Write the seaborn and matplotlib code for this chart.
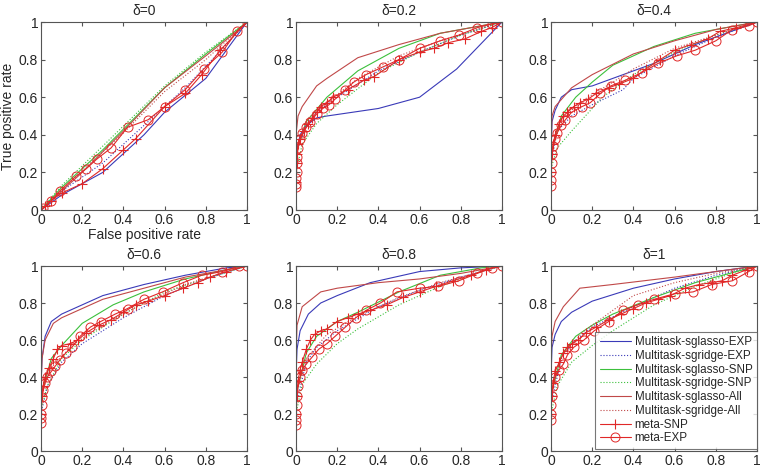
import matplotlib
matplotlib.use("Agg")
import matplotlib.pyplot as plt
import seaborn as sns
import pandas as pd

deltas = ["0", "0.2", "0.4", "0.6", "0.8", "1"]
tick_vals = [0, 0.2, 0.4, 0.6, 0.8, 1]
tick_labels = ["0", "0.2", "0.4", "0.6", "0.8", "1"]

# each series: per-panel (x list, y list)
sglasso_exp = {
    "0": ([0, 0.1, 0.3, 0.5, 0.6, 0.8, 0.9, 1], [0, 0.08, 0.2, 0.4, 0.52, 0.7, 0.85, 1]),
    "0.2": ([0, 0.02, 0.05, 0.1, 0.15, 0.4, 0.6, 0.78, 1], [0.3, 0.4, 0.45, 0.49, 0.5, 0.54, 0.6, 0.75, 1]),
    "0.4": ([0, 0.005, 0.02, 0.05, 0.1, 0.2, 0.3, 0.5, 0.7, 0.9, 1], [0.3, 0.47, 0.53, 0.6, 0.64, 0.66, 0.7, 0.78, 0.88, 0.96, 1]),
    "0.6": ([0, 0.005, 0.02, 0.05, 0.1, 0.3, 0.5, 0.7, 0.9, 1], [0.35, 0.5, 0.62, 0.7, 0.74, 0.84, 0.9, 0.95, 0.99, 1]),
    "0.8": ([0, 0.005, 0.02, 0.06, 0.12, 0.2, 0.36, 0.6, 0.8, 1], [0.4, 0.55, 0.65, 0.74, 0.8, 0.84, 0.91, 0.97, 0.99, 1]),
    "1": ([0, 0.005, 0.02, 0.05, 0.1, 0.2, 0.4, 0.6, 0.8, 1], [0.4, 0.56, 0.63, 0.7, 0.75, 0.81, 0.88, 0.93, 0.97, 1]),
}
sgridge_exp = {
    "0": ([0, 0.1, 0.3, 0.5, 0.7, 0.9, 1], [0, 0.1, 0.25, 0.45, 0.65, 0.88, 1]),
    "0.2": ([0, 0.05, 0.1, 0.2, 0.4, 0.6, 0.8, 1], [0.3, 0.45, 0.52, 0.6, 0.74, 0.84, 0.93, 1]),
    "0.4": ([0, 0.03, 0.1, 0.2, 0.35, 0.4, 0.6, 0.8, 1], [0.25, 0.42, 0.5, 0.56, 0.64, 0.7, 0.82, 0.92, 1]),
    "0.6": ([0, 0.03, 0.1, 0.2, 0.4, 0.6, 0.8, 1], [0.2, 0.35, 0.48, 0.58, 0.72, 0.84, 0.93, 1]),
    "0.8": ([0, 0.05, 0.1, 0.2, 0.4, 0.6, 0.8, 1], [0.25, 0.48, 0.56, 0.65, 0.78, 0.87, 0.94, 1]),
    "1": ([0, 0.05, 0.1, 0.2, 0.4, 0.6, 0.8, 1], [0.25, 0.5, 0.58, 0.67, 0.78, 0.88, 0.95, 1]),
}
sglasso_snp = {
    "0": ([0, 0.1, 0.3, 0.6, 0.8, 1], [0, 0.12, 0.32, 0.65, 0.83, 1]),
    "0.2": ([0, 0.05, 0.15, 0.3, 0.5, 0.7, 1], [0.3, 0.47, 0.6, 0.74, 0.86, 0.94, 1]),
    "0.4": ([0, 0.05, 0.12, 0.2, 0.3, 0.5, 0.7, 0.9, 1], [0.3, 0.5, 0.6, 0.68, 0.77, 0.87, 0.94, 0.98, 1]),
    "0.6": ([0, 0.05, 0.1, 0.2, 0.35, 0.5, 0.7, 0.9, 1], [0.3, 0.5, 0.57, 0.69, 0.79, 0.86, 0.93, 0.98, 1]),
    "0.8": ([0, 0.05, 0.1, 0.2, 0.3, 0.5, 0.7, 0.9, 1], [0.3, 0.53, 0.62, 0.7, 0.75, 0.86, 0.95, 0.99, 1]),
    "1": ([0, 0.05, 0.12, 0.2, 0.3, 0.5, 0.7, 0.9, 1], [0.3, 0.52, 0.62, 0.68, 0.74, 0.83, 0.91, 0.97, 1]),
}
sgridge_snp = {
    "0": ([0, 0.1, 0.3, 0.6, 0.8, 1], [0, 0.13, 0.34, 0.66, 0.84, 1]),
    "0.2": ([0, 0.03, 0.1, 0.2, 0.4, 0.6, 0.8, 1], [0.2, 0.35, 0.46, 0.56, 0.73, 0.84, 0.93, 1]),
    "0.4": ([0, 0.03, 0.1, 0.15, 0.25, 0.4, 0.6, 0.8, 1], [0.22, 0.33, 0.42, 0.48, 0.6, 0.72, 0.84, 0.93, 1]),
    "0.6": ([0, 0.03, 0.1, 0.2, 0.4, 0.6, 0.8, 1], [0.22, 0.35, 0.5, 0.6, 0.74, 0.86, 0.93, 1]),
    "0.8": ([0, 0.03, 0.1, 0.2, 0.3, 0.5, 0.7, 0.9, 1], [0.2, 0.36, 0.47, 0.58, 0.66, 0.79, 0.89, 0.97, 1]),
    "1": ([0, 0.03, 0.1, 0.2, 0.3, 0.5, 0.7, 0.9, 1], [0.2, 0.35, 0.48, 0.57, 0.65, 0.79, 0.89, 0.97, 1]),
}
sglasso_all = {
    "0": ([0, 0.2, 0.4, 0.6, 0.8, 0.95, 1], [0, 0.2, 0.42, 0.65, 0.82, 0.95, 1]),
    "0.2": ([0, 0.01, 0.03, 0.1, 0.15, 0.3, 0.5, 0.7, 1], [0.4, 0.5, 0.55, 0.66, 0.7, 0.81, 0.88, 0.94, 1]),
    "0.4": ([0, 0.005, 0.02, 0.1, 0.2, 0.4, 0.6, 0.8, 1], [0.35, 0.5, 0.55, 0.65, 0.72, 0.83, 0.9, 0.96, 1]),
    "0.6": ([0, 0.005, 0.02, 0.06, 0.1, 0.3, 0.5, 0.7, 0.9, 1], [0.35, 0.5, 0.6, 0.69, 0.72, 0.82, 0.88, 0.94, 0.98, 1]),
    "0.8": ([0, 0.005, 0.03, 0.12, 0.2, 0.4, 0.6, 0.8, 1], [0.5, 0.68, 0.78, 0.86, 0.88, 0.91, 0.93, 0.96, 1]),
    "1": ([0, 0.005, 0.02, 0.06, 0.14, 0.3, 0.6, 0.8, 1], [0.5, 0.62, 0.7, 0.78, 0.88, 0.9, 0.94, 0.97, 1]),
}
sgridge_all = {
    "0": ([0, 0.2, 0.4, 0.6, 0.8, 1], [0, 0.21, 0.41, 0.63, 0.8, 1]),
    "0.2": ([0, 0.05, 0.15, 0.3, 0.5, 0.7, 0.9, 1], [0.3, 0.48, 0.57, 0.7, 0.82, 0.9, 0.97, 1]),
    "0.4": ([0, 0.05, 0.15, 0.3, 0.4, 0.6, 0.8, 1], [0.3, 0.48, 0.58, 0.68, 0.75, 0.86, 0.93, 1]),
    "0.6": ([0, 0.05, 0.15, 0.3, 0.5, 0.7, 0.9, 1], [0.3, 0.45, 0.57, 0.68, 0.8, 0.9, 0.97, 1]),
    "0.8": ([0, 0.05, 0.15, 0.3, 0.5, 0.7, 0.9, 1], [0.3, 0.5, 0.63, 0.73, 0.83, 0.91, 0.97, 1]),
    "1": ([0, 0.05, 0.15, 0.25, 0.4, 0.6, 0.8, 1], [0.3, 0.5, 0.64, 0.72, 0.84, 0.91, 0.96, 1]),
}
meta_snp = {
    "0": ([0, 0.02, 0.05, 0.1, 0.2, 0.3, 0.4, 0.46, 0.6, 0.7, 0.78, 0.87, 1],
          [0, 0.02, 0.05, 0.09, 0.14, 0.22, 0.32, 0.38, 0.55, 0.62, 0.72, 0.85, 1]),
    "0.2": ([0, 0.003, 0.005, 0.01, 0.02, 0.04, 0.06, 0.08, 0.1, 0.12, 0.15, 0.18, 0.25, 0.33, 0.38, 0.5, 0.6, 0.67, 0.74, 0.82, 0.9, 0.95, 1],
            [0.15, 0.25, 0.3, 0.35, 0.38, 0.42, 0.46, 0.49, 0.52, 0.55, 0.57, 0.6, 0.64, 0.69, 0.71, 0.8, 0.84, 0.86, 0.89, 0.91, 0.95, 0.97, 1]),
    "0.4": ([0, 0.005, 0.01, 0.02, 0.04, 0.06, 0.08, 0.11, 0.14, 0.18, 0.22, 0.28, 0.33, 0.4, 0.46, 0.53, 0.6, 0.68, 0.76, 0.82, 0.9, 1],
            [0.2, 0.3, 0.35, 0.4, 0.46, 0.5, 0.52, 0.55, 0.57, 0.59, 0.62, 0.65, 0.67, 0.7, 0.75, 0.8, 0.85, 0.88, 0.91, 0.95, 0.97, 1]),
    "0.6": ([0, 0.003, 0.01, 0.02, 0.04, 0.06, 0.08, 0.1, 0.14, 0.18, 0.22, 0.28, 0.34, 0.4, 0.46, 0.52, 0.6, 0.69, 0.76, 0.82, 0.9, 1],
            [0.2, 0.3, 0.35, 0.4, 0.45, 0.5, 0.55, 0.57, 0.58, 0.6, 0.64, 0.68, 0.71, 0.75, 0.79, 0.81, 0.84, 0.88, 0.91, 0.94, 0.97, 1]),
    "0.8": ([0, 0.003, 0.01, 0.02, 0.03, 0.05, 0.07, 0.09, 0.12, 0.15, 0.2, 0.25, 0.3, 0.36, 0.44, 0.52, 0.6, 0.68, 0.76, 0.85, 0.92, 1],
            [0.2, 0.3, 0.38, 0.44, 0.48, 0.55, 0.6, 0.63, 0.65, 0.66, 0.7, 0.72, 0.74, 0.76, 0.79, 0.83, 0.86, 0.89, 0.92, 0.95, 0.98, 1]),
    "1": ([0, 0.003, 0.01, 0.02, 0.04, 0.06, 0.08, 0.1, 0.13, 0.17, 0.22, 0.28, 0.34, 0.4, 0.46, 0.52, 0.58, 0.65, 0.72, 0.78, 0.83, 0.88, 0.95, 1],
          [0.2, 0.3, 0.37, 0.43, 0.48, 0.53, 0.56, 0.58, 0.6, 0.64, 0.67, 0.71, 0.74, 0.77, 0.8, 0.82, 0.84, 0.88, 0.9, 0.91, 0.92, 0.95, 0.98, 1]),
}
meta_exp = {
    "0": ([0, 0.01, 0.05, 0.09, 0.17, 0.22, 0.27, 0.34, 0.42, 0.52, 0.6, 0.7, 0.79, 0.88, 0.95, 1],
          [0, 0.01, 0.05, 0.1, 0.18, 0.22, 0.27, 0.33, 0.44, 0.48, 0.55, 0.64, 0.75, 0.84, 0.95, 1]),
    "0.2": ([0, 0, 0, 0.003, 0.003, 0.005, 0.01, 0.02, 0.03, 0.05, 0.07, 0.1, 0.13, 0.16, 0.19, 0.24, 0.28, 0.34, 0.42, 0.5, 0.6, 0.7, 0.79, 0.88, 0.95, 1],
            [0.12, 0.14, 0.17, 0.2, 0.25, 0.28, 0.33, 0.38, 0.41, 0.44, 0.47, 0.51, 0.54, 0.56, 0.59, 0.64, 0.68, 0.72, 0.76, 0.8, 0.86, 0.9, 0.93, 0.97, 0.99, 1]),
    "0.4": ([0, 0, 0.002, 0.003, 0.005, 0.01, 0.02, 0.03, 0.05, 0.07, 0.1, 0.15, 0.19, 0.24, 0.29, 0.36, 0.44, 0.52, 0.61, 0.7, 0.8, 0.88, 0.96, 1],
            [0.13, 0.16, 0.2, 0.25, 0.3, 0.34, 0.38, 0.41, 0.45, 0.48, 0.52, 0.55, 0.57, 0.62, 0.66, 0.69, 0.73, 0.78, 0.82, 0.85, 0.9, 0.96, 0.98, 1]),
    "0.6": ([0, 0, 0.002, 0.003, 0.005, 0.01, 0.02, 0.03, 0.05, 0.07, 0.09, 0.12, 0.15, 0.19, 0.24, 0.29, 0.36, 0.42, 0.5, 0.59, 0.69, 0.78, 0.88, 0.96, 1],
            [0.15, 0.18, 0.2, 0.25, 0.29, 0.33, 0.37, 0.4, 0.43, 0.46, 0.49, 0.53, 0.56, 0.62, 0.67, 0.7, 0.74, 0.77, 0.82, 0.86, 0.91, 0.95, 0.97, 1.0, 1]),
    "0.8": ([0, 0, 0.002, 0.003, 0.005, 0.01, 0.02, 0.03, 0.05, 0.08, 0.11, 0.15, 0.19, 0.24, 0.29, 0.34, 0.41, 0.49, 0.6, 0.69, 0.79, 0.88, 0.95, 1],
            [0.14, 0.17, 0.2, 0.25, 0.3, 0.35, 0.4, 0.44, 0.47, 0.51, 0.55, 0.58, 0.62, 0.67, 0.72, 0.76, 0.8, 0.86, 0.88, 0.89, 0.92, 0.96, 0.99, 1]),
    "1": ([0, 0, 0.002, 0.005, 0.01, 0.02, 0.04, 0.06, 0.08, 0.11, 0.16, 0.21, 0.28, 0.35, 0.42, 0.5, 0.6, 0.69, 0.78, 0.88, 0.96, 1],
          [0.17, 0.2, 0.25, 0.3, 0.35, 0.4, 0.44, 0.47, 0.52, 0.56, 0.6, 0.65, 0.7, 0.76, 0.79, 0.82, 0.85, 0.86, 0.9, 0.92, 0.97, 1]),
}

series_names = ["Multitask-sglasso-EXP", "Multitask-sgridge-EXP", "Multitask-sglasso-SNP",
                "Multitask-sgridge-SNP", "Multitask-sglasso-All", "Multitask-sgridge-All",
                "meta-SNP", "meta-EXP"]
series_data = [sglasso_exp, sgridge_exp, sglasso_snp, sgridge_snp, sglasso_all, sgridge_all, meta_snp, meta_exp]
styles = [
    dict(color="#3a3ab8", linestyle="-", marker=None),
    dict(color="#3a3ab8", linestyle=":", marker=None),
    dict(color="#3cc03c", linestyle="-", marker=None),
    dict(color="#3cc03c", linestyle=":", marker=None),
    dict(color="#c04848", linestyle="-", marker=None),
    dict(color="#c04848", linestyle=":", marker=None),
    dict(color="#e02828", linestyle="-", marker="+"),
    dict(color="#e02828", linestyle="-", marker="o"),
]

sns.set_style("white")
plt.rcParams["font.family"] = ["Liberation Sans", "DejaVu Sans"]

fig = plt.figure(figsize=(7.67, 4.69), dpi=100)
lefts = [41 / 767, 296 / 767, 551 / 767]
w = 206 / 767
rows = [(1 - 210 / 469, 188 / 469), (1 - 451 / 469, 185 / 469)]

axes = []
for i, d in enumerate(deltas):
    r, c = divmod(i, 3)
    ax = fig.add_axes([lefts[c], rows[r][0], w, rows[r][1]])
    axes.append(ax)
    for name, data, st in zip(series_names, series_data, styles):
        xs, ys = data[d]
        df = pd.DataFrame({"x": xs, "y": ys})
        kw = dict(color=st["color"], linestyle=st["linestyle"], linewidth=0.8)
        if st["marker"] == "o":
            kw.update(marker="o", markersize=6.5, markerfacecolor="none",
                      markeredgecolor=st["color"], markeredgewidth=0.7)
        elif st["marker"] == "+":
            kw.update(marker="+", markersize=6.5, markeredgecolor=st["color"],
                      markeredgewidth=0.8)
        sns.lineplot(data=df, x="x", y="y", ax=ax, sort=False, estimator=None,
                     label=name, legend=False, **kw)
    ax.set_xlim(0, 1)
    ax.set_ylim(0, 1)
    ax.set_xticks(tick_vals)
    ax.set_xticklabels(tick_labels)
    ax.set_yticks(tick_vals)
    ax.set_yticklabels(tick_labels)
    ax.tick_params(direction="in", length=3, labelsize=10, pad=2, top=True, right=True,
                   bottom=True, left=True, color="#555555")
    for sp in ax.spines.values():
        sp.set_color("#555555")
        sp.set_linewidth(0.8)
    ax.set_title("δ=" + d, fontsize=10, pad=5)
    ax.set_xlabel("")
    ax.set_ylabel("")

axes[0].set_xlabel("False positive rate", fontsize=10, labelpad=1)
axes[0].set_ylabel("True positive rate", fontsize=10, labelpad=3)

leg = axes[5].legend(loc="lower right", bbox_to_anchor=(1.0, 0.01), fontsize=8.4, frameon=True,
                     fancybox=False, borderaxespad=0.0, handlelength=2.7, handletextpad=0.3,
                     labelspacing=0.15, borderpad=0.4, edgecolor="#555555")
leg.get_frame().set_linewidth(0.8)

fig.savefig("out.png", dpi=100)
